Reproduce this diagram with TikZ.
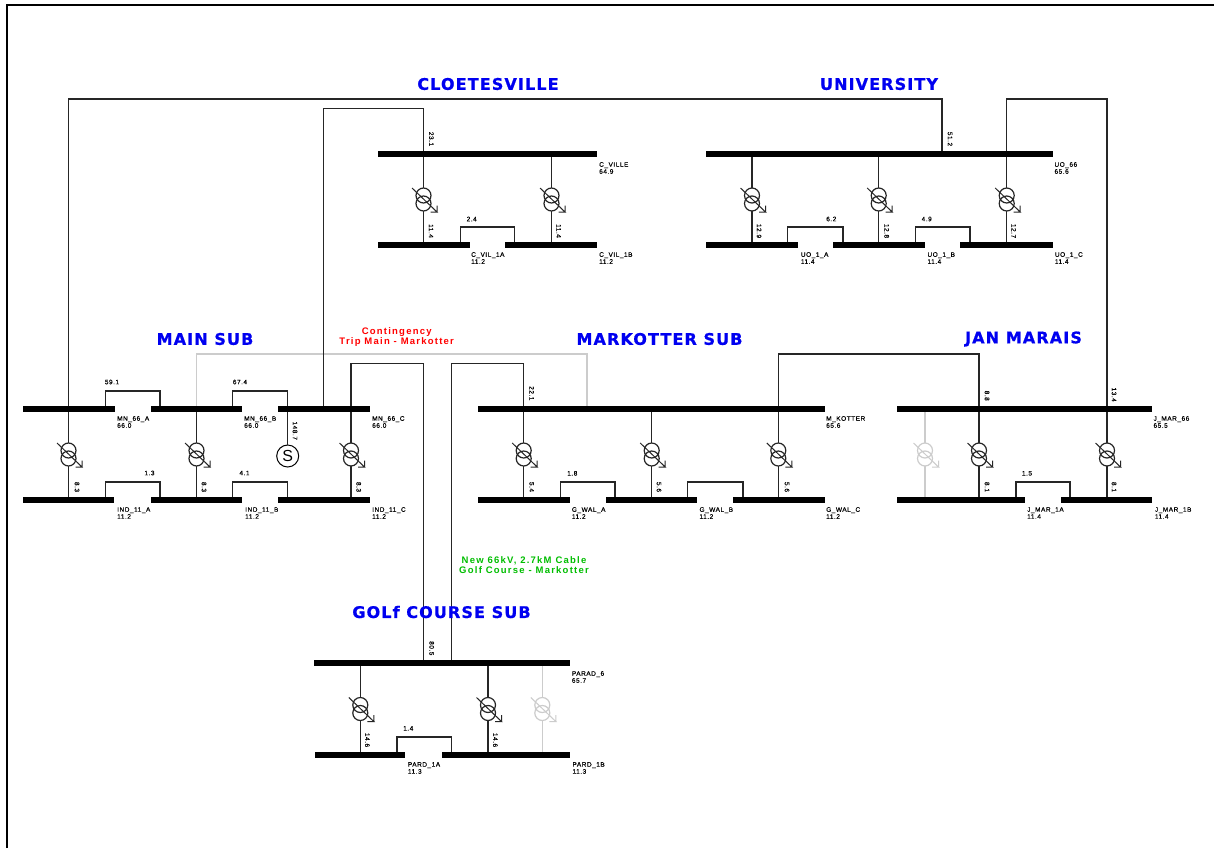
\documentclass[tikz,border=0pt]{standalone}
\usepackage{fontspec}
\setmainfont{Liberation Sans}
\newfontfamily\titlefont[LetterSpace=7,FakeBold=0.8]{DejaVu Sans Bold}
\newfontfamily\notefont[LetterSpace=13]{Liberation Sans Bold}
\newfontfamily\smallfont[LetterSpace=8,FakeBold=0.2]{Liberation Sans}
\definecolor{offgray}{gray}{0.80}
\definecolor{titleblue}{RGB}{0,0,240}
\definecolor{newgreen}{RGB}{0,190,0}
\definecolor{wire}{gray}{0.15}
\pgfdeclarelayer{buslayer}
\pgfsetlayers{main,buslayer}
\tikzset{
  x=1pt,y=-1pt,
  wireline/.style={draw=wire,line width=1.2pt},
  offline/.style={draw=offgray,line width=1.2pt},
  busbar/.style={fill=black,draw=none,inner sep=0pt,minimum height=6pt},
  ratio/.style={font=\smallfont\fontsize{6.5}{7}\selectfont,inner sep=0pt,color=black},
  vratio/.style={ratio,rotate=-90},
  buslabel/.style={ratio,anchor=west,align=left},
  title/.style={font=\titlefont\fontsize{16}{16}\selectfont,text=titleblue,inner sep=0pt},
  note/.style={font=\notefont\fontsize{9.5}{10}\selectfont,inner sep=0pt,align=center},
}
% bus: name, x1, x2, y
\newcommand{\busb}[4]{\begin{pgfonlayer}{buslayer}\node[busbar,minimum width={#3-#2}] (#1) at ({(#2+#3)/2},#4) {};\end{pgfonlayer}}
% transformer: name, x, centre y, colour
\newcommand{\xfm}[4]{%
  \fill[white] (#2,#3-4) circle[radius=7.5] (#2,#3+4) circle[radius=7.5];
  \draw[#4] (#2,#3-4) circle[radius=7.5];
  \draw[#4] (#2,#3+4) circle[radius=7.5];
  \draw[#4,line width=1pt] (#2-11.5,#3-11.5) -- (#2+13.5,#3+12.5) -- (#2+7,#3+12.5)
     (#2+13.5,#3+12.5) -- (#2+13.5,#3+6);
}
% tie between two buses: from-bus, to-bus, x1, x2, y
\newcommand{\tie}[5]{\coordinate (t1) at (#3,#5); \coordinate (t2) at (#4,#5);
  \draw[wireline] (t1 |- #1) -- (t1) -- (t2) -- (t2 |- #2);}
% transformer bay: xfm name, x, cy, upper bus, lower bus, style
\newcommand{\bay}[6]{%
  \coordinate (#1-c) at (#2,#3);
  \draw[#6] (#1-c |- #4) -- (#1-c) (#1-c) -- (#1-c |- #5);
  \xfm{#1}{#2}{#3}{#6}
}
\newcommand{\blab}[5]{\node[buslabel] (#1) at (#2,#3) {#4\\#5};}
\newcommand{\val}[4]{\node[ratio] (#1) at (#2,#3) {#4};}
\newcommand{\vval}[4]{\node[vratio] (#1) at (#2,#3) {#4};}
\begin{document}
\begin{tikzpicture}
\useasboundingbox (0,0) rectangle (1214,848);
\fill[white] (0,0) rectangle (1214,848);
\draw[black,line width=2pt] (7,848) -- (7,5) -- (1214,5);

% buses
\busb{mna}{23}{115}{409}\busb{mnb}{151}{242}{409}\busb{mnc}{278}{370}{409}
\busb{inda}{23}{114}{500}\busb{indb}{151}{242}{500}\busb{indc}{278}{370}{500}
\busb{cv}{378}{597}{154}\busb{cva}{378}{470}{245}\busb{cvb}{505}{597}{245}
\busb{uo}{706}{1053}{154}\busb{uoa}{706}{798}{245}\busb{uob}{833}{925}{245}\busb{uoc}{960}{1053}{245}
\busb{mk}{478}{825}{409}\busb{gwa}{478}{570}{500}\busb{gwb}{606}{697}{500}\busb{gwc}{733}{825}{500}
\busb{jm}{897}{1152}{409}\busb{jma}{897}{1025}{500}\busb{jmb}{1061}{1152}{500}
\busb{pd}{314}{570}{663}\busb{pda}{315}{405}{755}\busb{pdb}{442}{570}{755}

% grey open circuit
\coordinate (ga) at (196.5,354); \coordinate (gb) at (587,354);
\draw[offline] (ga |- mnb) -- (ga) -- (gb) -- (gb |- mk);

% lines between substations
\coordinate (l1a) at (68.5,99); \coordinate (l1b) at (942,99);
\draw[wireline] (l1a |- mna) -- (l1a) -- (l1b) -- (l1b |- uo);
\coordinate (l2a) at (323.5,108.5); \coordinate (l2b) at (423.5,108.5);
\draw[wireline] (l2a |- mnc) -- (l2a) -- (l2b) -- (l2b |- cv);
\coordinate (l3a) at (351,363.5); \coordinate (l3b) at (423.7,363.5);
\draw[wireline] (l3a |- mnc) -- (l3a) -- (l3b) -- (l3b |- pd);
\coordinate (l4a) at (451.3,363.5); \coordinate (l4b) at (523.7,363.5);
\draw[wireline] (l4a |- pd) -- (l4a) -- (l4b) -- (l4b |- mk);
\coordinate (l5a) at (778.3,354); \coordinate (l5b) at (979,354);
\draw[wireline] (l5a |- mk) -- (l5a) -- (l5b) -- (l5b |- jm);
\coordinate (l6a) at (1006.7,99); \coordinate (l6b) at (1107,99);
\draw[wireline] (l6a |- uo) -- (l6a) -- (l6b) -- (l6b |- jm);

% ties
\tie{mna}{mnb}{105.7}{160}{391}\tie{mnb}{mnc}{232.7}{287.7}{391}
\tie{inda}{indb}{105.7}{160}{482}\tie{indb}{indc}{232.7}{287.7}{482}
\tie{cva}{cvb}{460.5}{514.7}{227}
\tie{uoa}{uob}{787.7}{843}{227}\tie{uob}{uoc}{915.7}{970}{227}
\tie{gwa}{gwb}{560.7}{615}{482}\tie{gwb}{gwc}{687.7}{743}{482}
\tie{jma}{jmb}{1016}{1070}{482}
\tie{pda}{pdb}{397}{451.7}{737}

% synchronous condenser
\node[circle,draw=black,line width=1pt,fill=white,minimum size=22pt,inner sep=0pt,font=\fontsize{16}{16}\selectfont] (syn) at (287.7,456) {S};
\draw[wireline] (syn.north) -- (syn.north |- mnc);

% transformer bays
\bay{x1}{68.5}{454.5}{mna}{inda}{wireline}
\bay{x2}{196.5}{454.5}{mnb}{indb}{wireline}
\bay{x3}{351}{454.5}{mnc}{indc}{wireline}
\bay{x4}{423.5}{199.5}{cv}{cva}{wireline}
\bay{x5}{551.5}{199.5}{cv}{cvb}{wireline}
\bay{x6}{752}{199.5}{uo}{uoa}{wireline}
\bay{x7}{878.7}{199.5}{uo}{uob}{wireline}
\bay{x8}{1006.7}{199.5}{uo}{uoc}{wireline}
\bay{x9}{523.7}{454.5}{mk}{gwa}{wireline}
\bay{x10}{651.7}{454.5}{mk}{gwb}{wireline}
\bay{x11}{778.3}{454.5}{mk}{gwc}{wireline}
\bay{x12}{925}{454.5}{jm}{jma}{offline}
\bay{x13}{979}{454.5}{jm}{jma}{wireline}
\bay{x14}{1107}{454.5}{jm}{jmb}{wireline}
\bay{x15}{360.3}{709}{pd}{pda}{wireline}
\bay{x16}{488}{709}{pd}{pdb}{wireline}
\bay{x17}{542.3}{709}{pd}{pdb}{offline}

% bus labels
\blab{b1}{117}{422}{MN\_66\_A}{66.0}\blab{b2}{244}{422}{MN\_66\_B}{66.0}\blab{b3}{372}{422}{MN\_66\_C}{66.0}
\blab{b4}{117}{513}{IND\_11\_A}{11.2}\blab{b5}{245}{513}{IND\_11\_B}{11.2}\blab{b6}{372}{513}{IND\_11\_C}{11.2}
\blab{b7}{599}{168}{C\_VILLE}{64.9}\blab{b8}{471}{258}{C\_VIL\_1A}{11.2}\blab{b9}{599}{258}{C\_VIL\_1B}{11.2}
\blab{b10}{1054.3}{168}{UO\_66}{65.6}\blab{b11}{800.7}{258}{UO\_1\_A}{11.4}\blab{b12}{927.3}{258}{UO\_1\_B}{11.4}\blab{b13}{1054.7}{258}{UO\_1\_C}{11.4}
\blab{b14}{826}{422}{M\_KOTTER}{65.6}\blab{b15}{571.7}{513}{G\_WAL\_A}{11.2}\blab{b16}{699.3}{513}{G\_WAL\_B}{11.2}\blab{b17}{826}{513}{G\_WAL\_C}{11.2}
\blab{b18}{1153.3}{422}{J\_MAR\_66}{65.5}\blab{b19}{1027}{513}{J\_MAR\_1A}{11.4}\blab{b20}{1154.7}{513}{J\_MAR\_1B}{11.4}
\blab{b21}{571.7}{677}{PARAD\_6}{65.7}\blab{b22}{407.7}{768}{PARD\_1A}{11.3}\blab{b23}{572.3}{768}{PARD\_1B}{11.3}

% flow values
\val{v1}{112}{382}{59.1}\val{v2}{240}{382}{67.4}\val{v3}{149.5}{473}{1.3}\val{v4}{244.5}{473}{4.1}
\vval{v5}{295}{430.7}{148.7}\vval{v6}{77}{487}{8.3}\vval{v7}{204}{487}{8.3}\vval{v8}{358.7}{487}{8.3}
\vval{v9}{431.3}{139}{23.1}\vval{v10}{431}{231}{11.4}\vval{v11}{558.7}{231}{11.4}\val{v12}{471.7}{219}{2.4}
\vval{v13}{950}{139}{51.2}\vval{v14}{759}{231}{12.9}\vval{v15}{886.7}{231}{12.8}\vval{v16}{1013.7}{231}{12.7}
\val{v17}{831.3}{219}{6.2}\val{v18}{926.7}{219}{4.9}
\vval{v19}{531.7}{393.3}{22.1}\vval{v20}{531.7}{487}{5.4}\vval{v21}{659}{487}{5.6}\vval{v22}{787}{487}{5.6}\val{v23}{572.3}{473.3}{1.8}
\vval{v24}{987}{395.7}{8.8}\vval{v25}{1114}{394.7}{13.4}\vval{v26}{987}{487}{8.1}\vval{v27}{1114}{487}{8.1}\val{v28}{1027}{473.3}{1.5}
\vval{v29}{431.7}{648.3}{80.5}\vval{v30}{367.3}{740}{14.6}\vval{v31}{495.3}{740}{14.6}\val{v32}{408.3}{728.3}{1.4}

% titles
\node[title] (t1n) at (488,84) {CLOETESVILLE};
\node[title] (t2n) at (879,84) {UNIVERSITY};
\node[title] (t3n) at (205,339) {MAIN SUB};
\node[title] (t4n) at (659.5,339) {MARKOTTER SUB};
\node[title] (t5n) at (1023.5,339) {JAN MARAIS};
\node[title] (t6n) at (441.5,612) {GOLf COURSE SUB};
\node[note,text=red] (n1) at (396.7,337) {Contingency\\Trip Main - Markotter};
\node[note,text=newgreen] (n2) at (524,565) {New 66kV, 2.7kM Cable\\Golf Course - Markotter};
\end{tikzpicture}
\end{document}
